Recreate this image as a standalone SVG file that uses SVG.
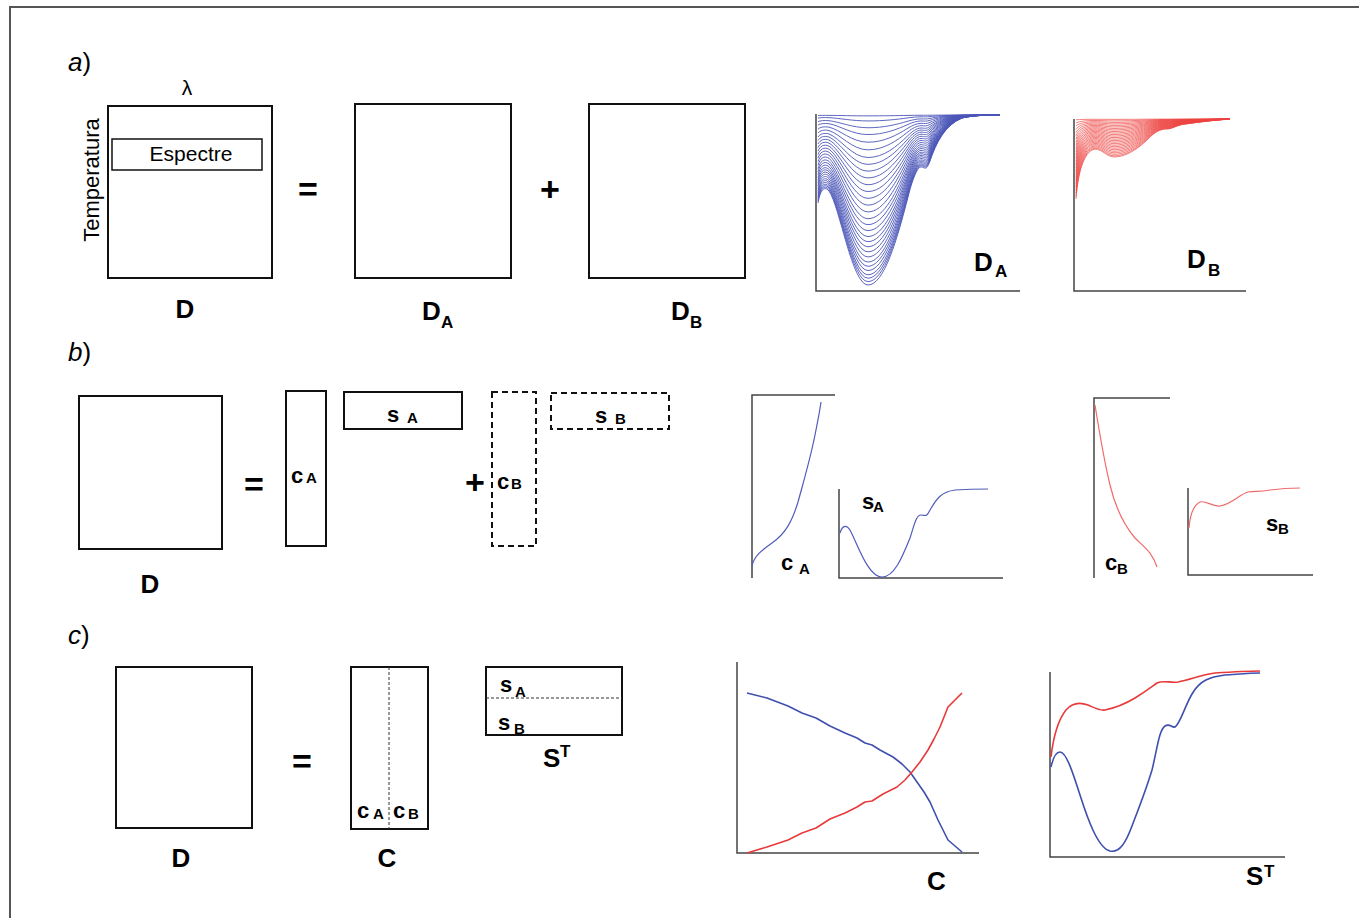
<svg xmlns="http://www.w3.org/2000/svg" xmlns:xlink="http://www.w3.org/1999/xlink" width="1359" height="918" viewBox="0 0 1359 918">
<style>
text{font-family:"Liberation Sans",Arial,sans-serif;fill:#000}
.box{fill:none;stroke:#111;stroke-width:2}
.dash{fill:none;stroke:#111;stroke-width:2;stroke-dasharray:6,4}
.thin{fill:none;stroke:#333;stroke-width:1;stroke-dasharray:3,2}
.axis{fill:none;stroke:#444;stroke-width:1.5}
.lbl{font-weight:bold;font-size:26px}
.sub{font-weight:bold;font-size:17px}
.v{font-weight:bold;font-size:22px}
.vs{font-weight:bold;font-size:15px}
.sec{font-size:26px}
.op{font-size:34px;font-weight:bold}
.blue{fill:none;stroke:#4f5bbb;stroke-width:1.2}
.red{fill:none;stroke:#f06a6a;stroke-width:1.2}
.blue2{fill:none;stroke:#3f4fae;stroke-width:1.6}
.red2{fill:none;stroke:#e83a3a;stroke-width:1.6}
</style>
<defs>
<path id="fa" d="M818,88 C820,76 824,70 829,76 C840,92 852,170 868,170 C884,170 897,125 908,82 C912,66 917,52 921,52 C925,52 926,57 930,46 C936,28 945,10 962,3 C975,0 990,0 1000,0" fill="none" stroke="#4b56b8" stroke-width="0.9" vector-effect="non-scaling-stroke"/>
<path id="fb" d="M1076,80 C1078,55 1083,36 1092,31 C1100,27 1106,38 1114,38 C1124,38 1136,32 1148,20 C1155,13 1160,10 1167,10 C1173,10 1176,6 1186,5 C1200,3 1215,1 1230,0" fill="none" stroke="#ec4440" stroke-width="0.7" vector-effect="non-scaling-stroke"/>
</defs>
<path d="M10,918 L10,7 L1359,7" fill="none" stroke="#555" stroke-width="2"/>

<g id="section-a">
<text class="sec" x="68" y="71"><tspan font-style="italic">a</tspan>)</text>
<g id="a-D">
<rect class="box" x="108" y="106" width="164" height="172"/>
<text x="187" y="95" font-size="21" text-anchor="middle">λ</text>
<text font-size="22" text-anchor="middle" transform="translate(99,180) rotate(-90)">Temperatura</text>
<rect x="112" y="139" width="150" height="31" fill="none" stroke="#111" stroke-width="1.5"/>
<text x="191" y="161" font-size="21" text-anchor="middle">Espectre</text>
<text class="lbl" x="185" y="318" text-anchor="middle">D</text>
</g>
<text class="op" x="308" y="201" text-anchor="middle">=</text>
<g id="a-DA">
<rect class="box" x="355" y="104" width="156" height="174"/>
<text class="lbl" x="422" y="320">D</text><text class="sub" x="441" y="328">A</text>
</g>
<text class="op" x="550" y="201" text-anchor="middle">+</text>
<g id="a-DB">
<rect class="box" x="589" y="104" width="156" height="174"/>
<text class="lbl" x="671" y="320">D</text><text class="sub" x="690" y="328">B</text>
</g>
<g id="plot-DA">
<use xlink:href="#fa" transform="translate(0,115) scale(1,0.005)"/>
<use xlink:href="#fa" transform="translate(0,115) scale(1,0.035)"/>
<use xlink:href="#fa" transform="translate(0,115) scale(1,0.075)"/>
<use xlink:href="#fa" transform="translate(0,115) scale(1,0.115)"/>
<use xlink:href="#fa" transform="translate(0,115) scale(1,0.16)"/>
<use xlink:href="#fa" transform="translate(0,115) scale(1,0.205)"/>
<use xlink:href="#fa" transform="translate(0,115) scale(1,0.25)"/>
<use xlink:href="#fa" transform="translate(0,115) scale(1,0.29)"/>
<use xlink:href="#fa" transform="translate(0,115) scale(1,0.33)"/>
<use xlink:href="#fa" transform="translate(0,115) scale(1,0.37)"/>
<use xlink:href="#fa" transform="translate(0,115) scale(1,0.41)"/>
<use xlink:href="#fa" transform="translate(0,115) scale(1,0.45)"/>
<use xlink:href="#fa" transform="translate(0,115) scale(1,0.49)"/>
<use xlink:href="#fa" transform="translate(0,115) scale(1,0.53)"/>
<use xlink:href="#fa" transform="translate(0,115) scale(1,0.57)"/>
<use xlink:href="#fa" transform="translate(0,115) scale(1,0.61)"/>
<use xlink:href="#fa" transform="translate(0,115) scale(1,0.645)"/>
<use xlink:href="#fa" transform="translate(0,115) scale(1,0.68)"/>
<use xlink:href="#fa" transform="translate(0,115) scale(1,0.715)"/>
<use xlink:href="#fa" transform="translate(0,115) scale(1,0.745)"/>
<use xlink:href="#fa" transform="translate(0,115) scale(1,0.775)"/>
<use xlink:href="#fa" transform="translate(0,115) scale(1,0.805)"/>
<use xlink:href="#fa" transform="translate(0,115) scale(1,0.835)"/>
<use xlink:href="#fa" transform="translate(0,115) scale(1,0.865)"/>
<use xlink:href="#fa" transform="translate(0,115) scale(1,0.89)"/>
<use xlink:href="#fa" transform="translate(0,115) scale(1,0.915)"/>
<use xlink:href="#fa" transform="translate(0,115) scale(1,0.94)"/>
<use xlink:href="#fa" transform="translate(0,115) scale(1,0.96)"/>
<use xlink:href="#fa" transform="translate(0,115) scale(1,0.98)"/>
<use xlink:href="#fa" transform="translate(0,115) scale(1,1)"/>
<path class="axis" d="M816,114 L816,291 L1020,291"/>
<text class="lbl" x="974" y="271">D</text><text class="sub" x="995" y="277">A</text>
</g>
<g id="plot-DB">
<use xlink:href="#fb" transform="translate(0,119) scale(1,0.01)"/>
<use xlink:href="#fb" transform="translate(0,119) scale(1,0.05)"/>
<use xlink:href="#fb" transform="translate(0,119) scale(1,0.09)"/>
<use xlink:href="#fb" transform="translate(0,119) scale(1,0.13)"/>
<use xlink:href="#fb" transform="translate(0,119) scale(1,0.17)"/>
<use xlink:href="#fb" transform="translate(0,119) scale(1,0.21)"/>
<use xlink:href="#fb" transform="translate(0,119) scale(1,0.25)"/>
<use xlink:href="#fb" transform="translate(0,119) scale(1,0.29)"/>
<use xlink:href="#fb" transform="translate(0,119) scale(1,0.33)"/>
<use xlink:href="#fb" transform="translate(0,119) scale(1,0.37)"/>
<use xlink:href="#fb" transform="translate(0,119) scale(1,0.41)"/>
<use xlink:href="#fb" transform="translate(0,119) scale(1,0.45)"/>
<use xlink:href="#fb" transform="translate(0,119) scale(1,0.49)"/>
<use xlink:href="#fb" transform="translate(0,119) scale(1,0.53)"/>
<use xlink:href="#fb" transform="translate(0,119) scale(1,0.57)"/>
<use xlink:href="#fb" transform="translate(0,119) scale(1,0.61)"/>
<use xlink:href="#fb" transform="translate(0,119) scale(1,0.65)"/>
<use xlink:href="#fb" transform="translate(0,119) scale(1,0.69)"/>
<use xlink:href="#fb" transform="translate(0,119) scale(1,0.73)"/>
<use xlink:href="#fb" transform="translate(0,119) scale(1,0.77)"/>
<use xlink:href="#fb" transform="translate(0,119) scale(1,0.81)"/>
<use xlink:href="#fb" transform="translate(0,119) scale(1,0.85)"/>
<use xlink:href="#fb" transform="translate(0,119) scale(1,0.89)"/>
<use xlink:href="#fb" transform="translate(0,119) scale(1,0.93)"/>
<use xlink:href="#fb" transform="translate(0,119) scale(1,0.97)"/>
<use xlink:href="#fb" transform="translate(0,119) scale(1,1)"/>
<path class="axis" d="M1074,119 L1074,291 L1246,291"/>
<text class="lbl" x="1187" y="268">D</text><text class="sub" x="1208" y="276">B</text>
</g>
</g>

<g id="section-b">
<text class="sec" x="68" y="361"><tspan font-style="italic">b</tspan>)</text>
<g id="b-D">
<rect class="box" x="79" y="396" width="143" height="153"/>
<text class="lbl" x="150" y="593" text-anchor="middle">D</text>
</g>
<text class="op" x="254" y="496" text-anchor="middle">=</text>
<g id="b-cA">
<rect class="box" x="286" y="391" width="40" height="155"/>
<text class="v" x="291" y="483">c</text><text class="vs" x="306" y="483">A</text>
</g>
<g id="b-sA">
<rect class="box" x="344" y="392" width="118" height="37"/>
<text class="v" x="387" y="422">s</text><text class="vs" x="407" y="423">A</text>
</g>
<text class="op" x="475" y="494" text-anchor="middle">+</text>
<g id="b-cB">
<rect class="dash" x="492" y="392" width="44" height="154"/>
<text class="v" x="497" y="489">c</text><text class="vs" x="511" y="489">B</text>
</g>
<g id="b-sB">
<rect class="dash" x="551" y="393" width="118" height="36"/>
<text class="v" x="595" y="423">s</text><text class="vs" x="615" y="424">B</text>
</g>
<g id="plot-cA">
<path class="axis" d="M835,395 L752,395 L752,578"/>
<path class="blue" d="M752,566 C754,556 762,550 772,543 C785,534 792,522 798,502 C804,480 810,460 815,435 C818,420 820,410 821,402"/>
<text class="v" x="781" y="570">c</text><text class="vs" x="799" y="574">A</text>
</g>
<g id="plot-sA">
<path class="axis" d="M839,489 L839,578 L1003,578"/>
<path class="blue" d="M840,533 C842,526 846,524 850,530 C858,545 868,577 882,577 C894,577 902,558 910,538 C914,526 916,515 921,515 C926,515 926,518 930,510 C936,500 940,492 955,490 C970,489 980,489 988,489"/>
<text class="v" x="862" y="509">s</text><text class="vs" x="873" y="512">A</text>
</g>
<g id="plot-cB">
<path class="axis" d="M1170,398 L1094,398 L1094,578"/>
<path class="red" d="M1095,405 C1099,430 1104,460 1110,485 C1116,510 1124,525 1135,538 C1145,548 1152,552 1157,567"/>
<text class="v" x="1105" y="570">c</text><text class="vs" x="1117" y="574">B</text>
</g>
<g id="plot-sB">
<path class="axis" d="M1188,488 L1188,575 L1313,575"/>
<path class="red" d="M1189,528 C1190,515 1194,505 1200,502 C1206,500 1212,507 1220,506 C1232,504 1240,494 1248,492 C1255,491 1260,492 1270,490 C1285,488 1295,488 1300,488"/>
<text class="v" x="1266" y="531">s</text><text class="vs" x="1278" y="534">B</text>
</g>
</g>

<g id="section-c">
<text class="sec" x="68" y="644"><tspan font-style="italic">c</tspan>)</text>
<g id="c-D">
<rect class="box" x="116" y="667" width="136" height="161"/>
<text class="lbl" x="181" y="867" text-anchor="middle">D</text>
</g>
<text class="op" x="302" y="773" text-anchor="middle">=</text>
<g id="c-C">
<rect class="box" x="351" y="667" width="77" height="162"/>
<line class="thin" x1="389" y1="667" x2="389" y2="829"/>
<text class="v" x="357" y="818">c</text><text class="vs" x="373" y="819">A</text>
<text class="v" x="393" y="818">c</text><text class="vs" x="408" y="819">B</text>
<text class="lbl" x="387" y="867" text-anchor="middle">C</text>
</g>
<g id="c-ST">
<rect class="box" x="486" y="667" width="136" height="68"/>
<line class="thin" x1="486" y1="698" x2="622" y2="698"/>
<text class="v" x="500" y="692">s</text><text class="vs" x="515" y="697">A</text>
<text class="v" x="498" y="730">s</text><text class="vs" x="514" y="734">B</text>
<text class="lbl" x="543" y="767">S</text><text class="sub" x="560" y="757">T</text>
</g>
<g id="plot-C">
<path class="axis" d="M737,662 L737,853 L979,853"/>
<polyline class="blue2" stroke-linejoin="round" points="747,693 767,698 788,706 802,713 816,718 830,726 845,733 857,738 865,743 872,745 880,750 893,757 902,764 910,772 917,782 924,792 930,802 938,820 948,840 955,846 962,852"/>
<polyline class="red2" stroke-linejoin="round" points="747,853 767,847 788,840 802,833 816,828 830,819 845,813 857,807 865,802 872,801 883,794 897,787 905,780 912,772 920,762 928,750 934,739 940,727 948,707 955,700 962,693"/>
<text class="lbl" x="927" y="890">C</text>
</g>
<g id="plot-ST">
<path class="axis" d="M1050,672 L1050,857 L1285,857"/>
<path class="red2" d="M1051,757 C1053,740 1058,720 1066,710 C1072,703 1080,702 1088,705 C1095,708 1100,711 1105,710 C1115,708 1125,704 1135,698 C1145,692 1150,688 1157,683 C1163,680 1170,683 1178,682 C1190,680 1200,675 1215,673 C1230,672 1245,671 1260,671"/>
<path class="blue2" d="M1051,767 C1053,758 1056,752 1060,752 C1066,752 1072,770 1080,795 C1088,820 1098,848 1110,851 C1120,853 1126,842 1132,826 C1140,805 1146,790 1152,770 C1157,750 1159,730 1165,726 C1170,723 1172,728 1175,727 C1180,724 1184,708 1192,694 C1200,680 1210,677 1225,675 C1240,674 1250,673 1260,673"/>
<text class="lbl" x="1246" y="885">S</text><text class="sub" x="1264" y="877">T</text>
</g>
</g>
</svg>
